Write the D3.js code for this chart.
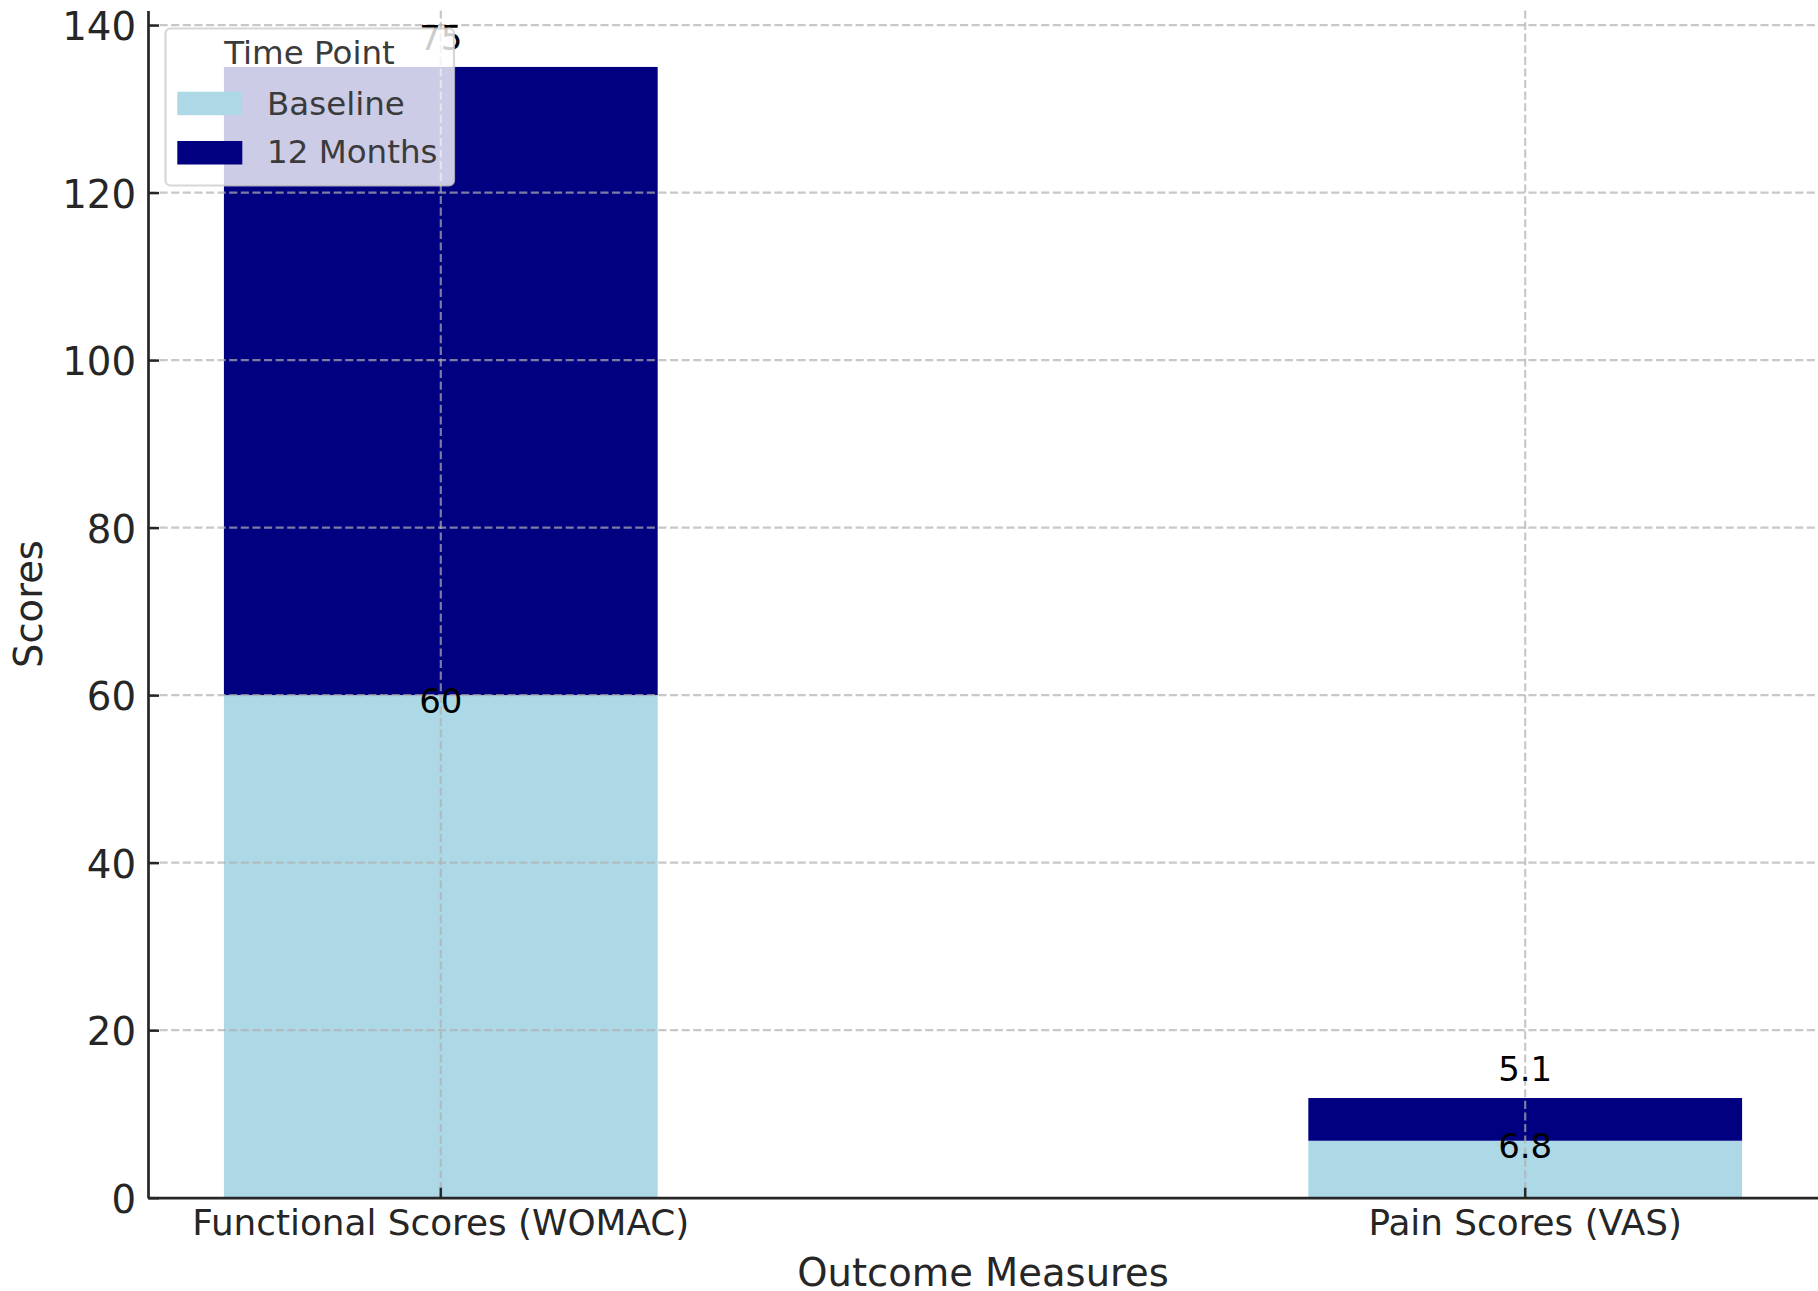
<!DOCTYPE html>
<html>
<head>
<meta charset="utf-8">
<script src="https://cdn.jsdelivr.net/npm/d3@7"></script>
<style>
  html, body { margin: 0; padding: 0; background: #ffffff; }
  svg { display: block; font-family: "DejaVu Sans", sans-serif; }
</style>
</head>
<body>
<svg id="chart" width="1818" height="1291"></svg>
<script>
// Outcome measures and scores at each time point
const categories = ["Functional Scores (WOMAC)", "Pain Scores (VAS)"];
const seriesNames = ["Baseline", "12 Months"];
const baselineValues = [60, 6.8];
const monthValues = [75, 5.1];
const yTicks = [0, 20, 40, 60, 80, 100, 120, 140];
const colors = ["#add8e6", "#000080"];

const W = 1818, H = 1291;
const plot = { left: 148, right: 1818, top: 10.4, bottom: 1197.7 };

const svg = d3.select("#chart");

// stacked layout
const rows = categories.map((c, i) => ({ cat: c, "Baseline": baselineValues[i], "12 Months": monthValues[i] }));
const stack = d3.stack().keys(seriesNames)(rows);
const yMax = d3.max(rows, d => d["Baseline"] + d["12 Months"]) * 1.05;

const x = d3.scaleBand().domain(categories).range([plot.left, plot.right])
  .paddingInner(0.6).paddingOuter(0.07);
const y = d3.scaleLinear().domain([0, yMax]).range([plot.bottom, plot.top]);

// bars
const barG = svg.append("g");
stack.forEach((layer, li) => {
  barG.selectAll(null).data(layer).enter().append("rect")
    .attr("x", d => x(d.data.cat))
    .attr("width", x.bandwidth())
    .attr("y", d => y(d[1]))
    .attr("height", d => y(d[0]) - y(d[1]))
    .attr("fill", colors[li]);
});

// grid (drawn above the bars)
const gridG = svg.append("g")
  .attr("stroke", "#b0b0b0").attr("stroke-opacity", 0.7)
  .attr("stroke-width", 2.2).attr("stroke-dasharray", "8.1,3.5");
gridG.selectAll(null).data(yTicks.filter(t => t > 0)).enter().append("line")
  .attr("x1", plot.left).attr("x2", plot.right)
  .attr("y1", d => y(d)).attr("y2", d => y(d));
gridG.selectAll(null).data(categories).enter().append("line")
  .attr("x1", d => x(d) + x.bandwidth() / 2).attr("x2", d => x(d) + x.bandwidth() / 2)
  .attr("y1", plot.top).attr("y2", plot.bottom);

// axes
const axisColor = "#262626";
const yAxis = svg.append("g").attr("transform", `translate(${plot.left},0)`)
  .call(d3.axisLeft(y).tickValues(yTicks).tickFormat(d3.format("d"))
    .tickSizeInner(-11).tickSizeOuter(0).tickPadding(12));
yAxis.select(".domain").attr("stroke", axisColor).attr("stroke-width", 2.7);
yAxis.selectAll(".tick line").attr("stroke", axisColor).attr("stroke-width", 2.5);
yAxis.selectAll(".tick text")
  .attr("fill", axisColor).attr("font-size", 38.7)
  .attr("font-family", "DejaVu Sans").attr("dy", null).attr("y", 14.5);

const xAxis = svg.append("g").attr("transform", `translate(0,${plot.bottom})`)
  .call(d3.axisBottom(x).tickSizeInner(-10).tickSizeOuter(0).tickPadding(0));
xAxis.select(".domain").attr("stroke", axisColor).attr("stroke-width", 2.7);
xAxis.selectAll(".tick line").attr("stroke", axisColor).attr("stroke-width", 2.5);
xAxis.selectAll(".tick text")
  .attr("fill", axisColor).attr("font-size", 35.8)
  .attr("font-family", "DejaVu Sans").attr("dy", null).attr("y", 37.5);

// axis titles
svg.append("text")
  .attr("x", (plot.left + plot.right) / 2).attr("y", 1285.5)
  .attr("text-anchor", "middle").attr("font-size", 38.5).attr("fill", axisColor)
  .text("Outcome Measures");
svg.append("text")
  .attr("transform", `translate(42,${(plot.top + plot.bottom) / 2}) rotate(-90)`)
  .attr("text-anchor", "middle").attr("font-size", 38.5).attr("fill", axisColor)
  .text("Scores");

// value labels
const labelG = svg.append("g").attr("font-size", 34).attr("fill", "#000")
  .attr("text-anchor", "middle");
rows.forEach(r => {
  const cx = x(r.cat) + x.bandwidth() / 2;
  labelG.append("text")
    .attr("x", cx).attr("y", y(r["Baseline"]) + 17.5)
    .text(r["Baseline"]);
  labelG.append("text")
    .attr("x", cx).attr("y", y(r["Baseline"] + r["12 Months"] + 3) + 8.4)
    .text(r["12 Months"]);
});

// legend
const lg = svg.append("g");
lg.append("rect")
  .attr("x", 165.5).attr("y", 28.5).attr("width", 288.5).attr("height", 157)
  .attr("rx", 5).attr("ry", 5)
  .attr("fill", "#ffffff").attr("fill-opacity", 0.8)
  .attr("stroke", "#cccccc").attr("stroke-opacity", 0.8).attr("stroke-width", 2.2);
lg.append("text")
  .attr("x", 309.5).attr("y", 64.3).attr("text-anchor", "middle")
  .attr("font-size", 32.5).attr("fill", "#3b3b3b").text("Time Point");
seriesNames.forEach((name, i) => {
  lg.append("rect")
    .attr("x", 177.3).attr("y", 91.7 + i * 49.3)
    .attr("width", 65).attr("height", 23.5)
    .attr("fill", colors[i]);
  lg.append("text")
    .attr("x", 267).attr("y", 115 + i * 48.3)
    .attr("font-size", 32.5).attr("fill", "#3b3b3b").text(name);
});
</script>
</body>
</html>
